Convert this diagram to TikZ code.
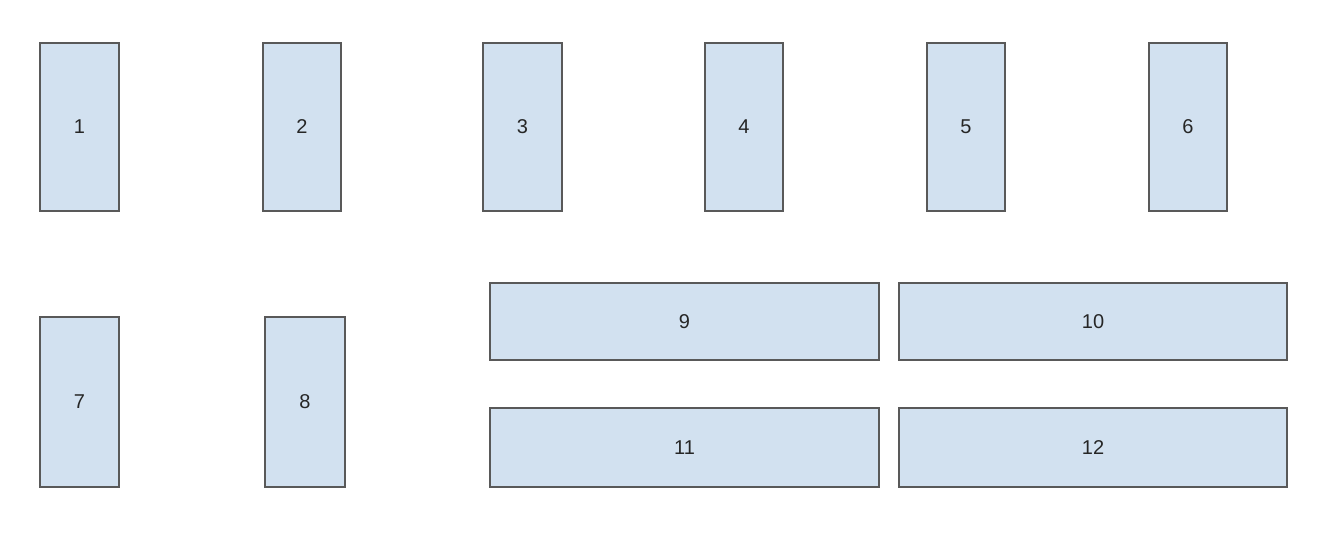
\documentclass[tikz,border=0pt]{standalone}
\usepackage{fontspec}
\setmainfont{Liberation Sans}
\usepackage{tikz}
\definecolor{boxfill}{HTML}{D2E1F0}
\definecolor{boxline}{HTML}{595959}
\tikzset{slot/.style={draw=boxline,fill=boxfill,line width=1.5pt,inner sep=0pt,text=black!85,font=\fontsize{20}{24}\selectfont}}

\begin{document}
\begin{tikzpicture}[x=1pt,y=-1pt]
%%Location
\useasboundingbox (0,0) rectangle (1326,542);
%%Top row
\node[slot,minimum width=79,minimum height=168] (s1) at (79.5,127) {1};
\node[slot,minimum width=78,minimum height=168] (s2) at (302,127) {2};
\node[slot,minimum width=79,minimum height=168] (s3) at (522.5,127) {3};
\node[slot,minimum width=78,minimum height=168] (s4) at (744,127) {4};
\node[slot,minimum width=78,minimum height=168] (s5) at (966,127) {5};
\node[slot,minimum width=78,minimum height=168] (s6) at (1188,127) {6};

%%Bottom left
\node[slot,minimum width=79,minimum height=170] (s7) at (79.5,402) {7};
\node[slot,minimum width=80,minimum height=170] (s8) at (305,402) {8};

%%Long slots
\node[slot,minimum width=389,minimum height=77] (s9) at (684.5,321.5) {9};
\node[slot,minimum width=388,minimum height=77] (s10) at (1093,321.5) {10};
\node[slot,minimum width=389,minimum height=79] (s11) at (684.5,447.5) {11};
\node[slot,minimum width=388,minimum height=79] (s12) at (1093,447.5) {12};
\end{tikzpicture}
\end{document}
